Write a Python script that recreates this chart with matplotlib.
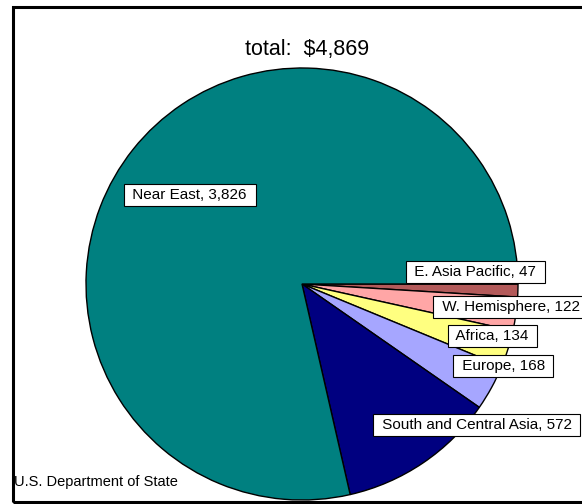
import matplotlib.pyplot as plt
from matplotlib.patches import Rectangle

plt.rcParams['font.family'] = ['Liberation Sans', 'DejaVu Sans']

# slices in drawing order, clockwise from 3 o'clock
regions = ["E. Asia Pacific", "W. Hemisphere", "Africa", "Europe",
           "South and Central Asia", "Near East"]
amounts = [47, 122, 134, 168, 572, 3826]
colors = ["#B35A5A", "#FFA6A6", "#FFFF80", "#A6A6FF", "#000080", "#008080"]

# label box anchors (pixel coords, left edge / centre y)
label_pos = [(406, 272), (433, 307), (448, 336), (453, 366), (373, 425), (124, 195)]

W, H = 582, 504
fig = plt.figure(figsize=(W / 100, H / 100), dpi=100)
ax = fig.add_axes([0, 0, 1, 1])

# outer frame
ax.add_patch(Rectangle((12.5, 2), 600, 495, fill=False, edgecolor='black', lw=2.2, zorder=1))

ax.pie(amounts, colors=colors, startangle=0, counterclock=False,
       center=(302, H - 284), radius=216, frame=True,
       wedgeprops=dict(edgecolor='black', linewidth=1.0))
ax.set_xlim(0, W)
ax.set_ylim(0, H)
ax.axis('off')

for name, val, (px, py) in zip(regions, amounts, label_pos):
    ax.text(px + 4.5, H - py, f" {name}, {val:,} ", fontsize=11, ha='left', va='center',
            bbox=dict(boxstyle='square,pad=0.28', facecolor='white', edgecolor='black', lw=0.8),
            zorder=5)

total = sum(amounts)
ax.text(307, H - 50, f"total:  ${total:,}", fontsize=15.5, ha='center', va='center')
ax.text(14, H - 482, "U.S. Department of State", fontsize=10.5, ha='left', va='center')

# title, mostly cut off at the top edge
ax.text(124, H + 4, "Region, FY 2005 Actual (millions)", fontsize=14, fontweight='bold',
        ha='left', va='baseline')

fig.savefig("out.png", dpi=100)
